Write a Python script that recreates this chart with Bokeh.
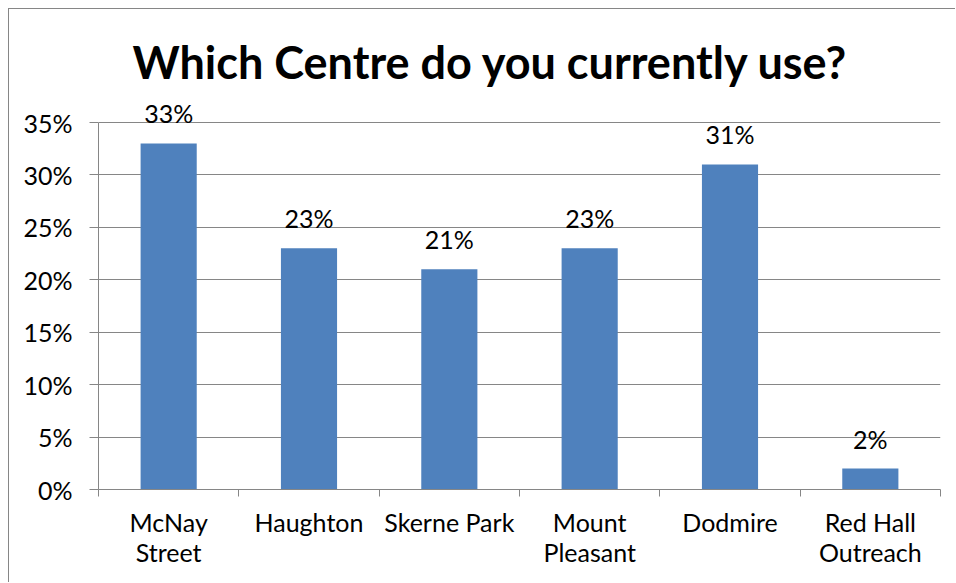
from bokeh.plotting import figure
from bokeh.models import (ColumnDataSource, FixedTicker, NumeralTickFormatter,
                          LabelSet, Label, Range1d)
from bokeh.core.properties import value
from bokeh.embed import file_html
from bokeh.resources import INLINE

categories = ["McNay\nStreet", "Haughton", "Skerne Park", "Mount\nPleasant", "Dodmire", "Red Hall\nOutreach"]
values = [0.33, 0.23, 0.21, 0.23, 0.31, 0.02]
y_ticks = [0, 0.05, 0.10, 0.15, 0.20, 0.25, 0.30, 0.35]
title_text = "Which Centre do you currently use?"

FONT = "Lato"
GRID = "#868686"
BAR = "#4F81BD"

n = len(categories)
centers = [i + 0.5 for i in range(n)]
src = ColumnDataSource(dict(
    x=centers,
    top=values,
    lab=[f"{round(v * 100)}%" for v in values],
))

y_max_axis = y_ticks[-1]
# frame extends above the 35% line so the title can live inside it
y_top = y_max_axis * (489 - 30) / (489 - 122)

p = figure(width=947, height=574, output_backend="svg", toolbar_location=None,
           x_range=Range1d(0, n), y_range=Range1d(0, y_top),
           min_border_left=89, min_border_right=16, min_border_top=21,
           min_border_bottom=94)
p.styles = {"margin-left": "8px", "margin-top": "8px",
            "border-left": "1px solid #868686", "border-top": "1px solid #868686"}
p.outline_line_color = None
p.background_fill_color = "white"
p.border_fill_color = "white"

p.vbar(x="x", top="top", width=0.4, source=src, fill_color=BAR, line_color=None)

# axes
p.xgrid.visible = False
p.ygrid.ticker = FixedTicker(ticks=y_ticks)
p.ygrid.grid_line_color = GRID
p.ygrid.grid_line_width = 1

ya = p.yaxis[0]
ya.ticker = FixedTicker(ticks=y_ticks)
ya.bounds = (0, y_max_axis)
ya.formatter = NumeralTickFormatter(format="0%")
ya.axis_line_color = GRID
ya.major_tick_line_color = GRID
ya.major_tick_in = 0
ya.major_tick_out = 9
ya.minor_tick_line_color = None
ya.major_label_standoff = 17
ya.major_label_text_font = FONT
ya.major_label_text_font_size = "25px"
ya.major_label_text_color = "black"

xa = p.xaxis[0]
xa.ticker = FixedTicker(ticks=centers, minor_ticks=list(range(n + 1)))
xa.major_label_overrides = {c: lab for c, lab in zip(centers, categories)}
xa.axis_line_color = GRID
xa.major_tick_line_color = None
xa.major_tick_in = 0
xa.major_tick_out = 0
xa.minor_tick_line_color = GRID
xa.minor_tick_in = 0
xa.minor_tick_out = 7
xa.major_label_standoff = 10
xa.major_label_text_font = FONT
xa.major_label_text_font_size = "25px"
xa.major_label_text_line_height = 1.0
xa.major_label_text_color = "black"

labels = LabelSet(x="x", y="top", text="lab", source=src, y_offset=20,
                  text_align="center", text_baseline="alphabetic",
                  text_font=value(FONT), text_font_size=value("25px"),
                  text_color="black")
p.add_layout(labels)

title = Label(x=2.793, y=y_max_axis * (489 - 61) / 367, text=title_text,
              text_align="center", text_baseline="alphabetic", text_font=FONT,
              text_font_style="bold", text_font_size="45px", text_color="black")
p.add_layout(title)

open("out.html", "w").write(file_html(p, INLINE))
